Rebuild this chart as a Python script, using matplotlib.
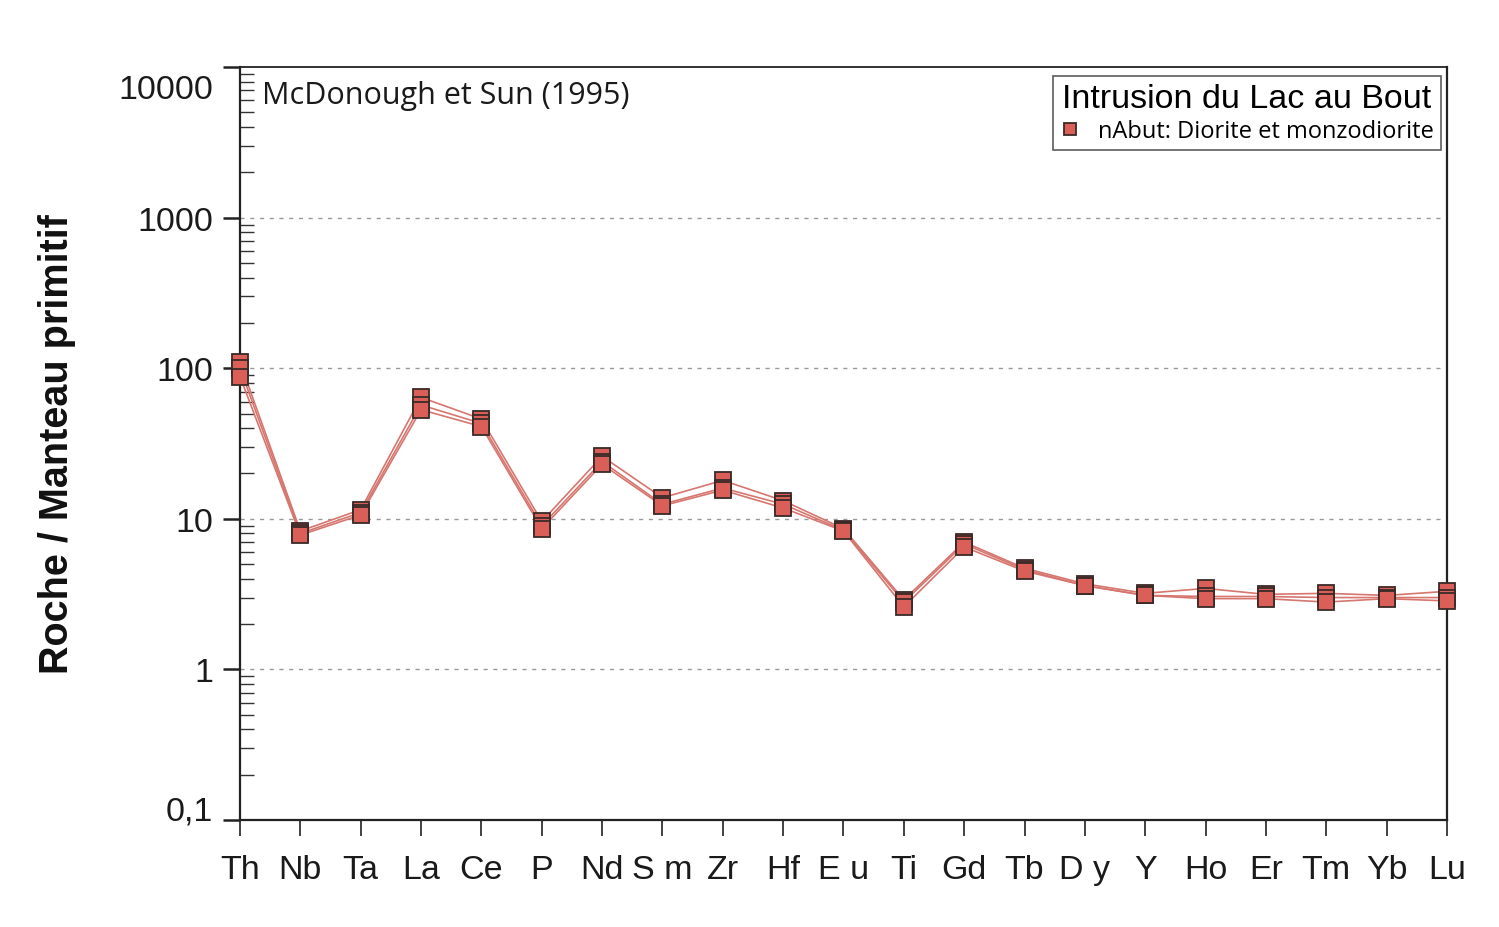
import matplotlib
matplotlib.use("Agg")
import matplotlib.pyplot as plt
from matplotlib.ticker import FixedLocator, LogLocator, NullFormatter, FixedFormatter
from matplotlib.transforms import ScaledTranslation

elements = ["Th", "Nb", "Ta", "La", "Ce", "P", "Nd", "Sm", "Zr", "Hf", "Eu",
            "Ti", "Gd", "Tb", "Dy", "Y", "Ho", "Er", "Tm", "Yb", "Lu"]
tick_labels = ["Th", "Nb", "Ta", "La", "Ce", "P", "Nd", "S m", "Zr", "Hf", "E u",
               "Ti", "Gd", "Tb", "D y", "Y", "Ho", "Er", "Tm", "Yb", "Lu"]

sample_1 = [110, 8.3, 11.5, 64, 46, 9.6, 26, 13.8, 18.0, 13.2, 8.6,
            2.9, 7.0, 4.7, 3.7, 3.2, 3.45, 3.15, 3.2, 3.1, 3.3]
sample_2 = [100, 8.0, 11.0, 57, 43, 9.0, 24, 12.5, 16.0, 12.5, 8.4,
            2.8, 6.8, 4.6, 3.6, 3.1, 3.05, 3.05, 3.0, 3.0, 3.0]
sample_3 = [88, 7.8, 10.6, 53, 41, 8.6, 23, 12.2, 15.5, 11.8, 8.3,
            2.6, 6.5, 4.5, 3.6, 3.1, 2.95, 2.95, 2.8, 2.95, 2.85]
samples = [sample_1, sample_2, sample_3]

y_ticks = [0.1, 1, 10, 100, 1000, 10000]
y_tick_labels = ["0,1", "1", "10", "100", "1000", "10000"]

legend_title = "Intrusion du Lac au Bout"
legend_label = "nAbut: Diorite et monzodiorite"
norm_text = "McDonough et Sun (1995)"
y_label = "Roche / Manteau primitif"

face = "#d95f58"
line_c = "#d6766f"

fig = plt.figure(figsize=(14.99, 9.28), dpi=100)
ax = fig.add_axes([0.1601, 0.1153, 0.9653 - 0.1601, 0.9267 - 0.1153])

x = list(range(len(elements)))
for i, s in enumerate(samples):
    ax.plot(x, s, color=line_c, lw=1.2, zorder=2, clip_on=False)
for i, s in enumerate(samples):
    ax.plot(x, s, linestyle="none", marker="s", markersize=11.5,
            markerfacecolor=face, markeredgecolor="#3a2a28", markeredgewidth=1.3,
            zorder=3, clip_on=False, label=legend_label if i == 0 else None)

ax.set_yscale("log")
ax.set_ylim(0.1, 10000)
ax.set_xlim(0, len(elements) - 1)

ax.yaxis.set_major_locator(FixedLocator(y_ticks))
ax.yaxis.set_major_formatter(FixedFormatter(y_tick_labels))
ax.yaxis.set_minor_locator(LogLocator(base=10, subs=range(2, 10), numticks=20))
ax.yaxis.set_minor_formatter(NullFormatter())
ax.tick_params(axis="y", which="major", direction="out", length=12.5, width=1.8,
               labelsize=24.5, pad=7, colors="#222222")
ax.tick_params(axis="y", which="minor", direction="in", length=10, width=1.0,
               colors="#333333")

ax.set_xticks(x)
ax.set_xticklabels(tick_labels)
ax.tick_params(axis="x", which="major", direction="out", length=11.5, width=1.2,
               labelsize=24.5, pad=13, colors="#222222")
for lbl in ax.get_xticklabels() + ax.get_yticklabels():
    lbl.set_fontfamily("Liberation Sans")
    lbl.set_color("#1a1a1a")

ylabels = ax.get_yticklabels()
ylabels[-1].set_transform(ylabels[-1].get_transform()
                          + ScaledTranslation(0, -0.19, fig.dpi_scale_trans))
ylabels[0].set_transform(ylabels[0].get_transform()
                         + ScaledTranslation(0, 0.13, fig.dpi_scale_trans))

for yv in y_ticks[1:-1]:
    ax.axhline(yv, color="#999999", lw=1.0, ls=(0, (3, 4)), zorder=1)

for side in ["left", "bottom", "right"]:
    ax.spines[side].set_linewidth(1.6)
    ax.spines[side].set_color("#222222")
ax.spines["top"].set_linewidth(1.3)
ax.spines["top"].set_color("#222222")

ax.set_ylabel(y_label, fontsize=28.5, fontweight="bold", family="Liberation Sans",
              labelpad=30, color="#111111")

ax.text(0.018, 0.983, norm_text, transform=ax.transAxes, fontsize=22,
        family="Open Sans", va="top", ha="left", color="#1a1a1a")

leg = ax.legend(loc="upper right", bbox_to_anchor=(0.995, 0.988), frameon=True,
                fancybox=False, edgecolor="#333333", fontsize=17,
                title=legend_title, title_fontsize=24.5, markerscale=0.8,
                handlelength=0.8, handletextpad=0.8, borderpad=0.3,
                labelspacing=0.2, borderaxespad=0)
leg.get_frame().set_linewidth(1.2)
leg.get_title().set_fontfamily("Liberation Sans")
for t in leg.get_texts():
    t.set_fontfamily("Open Sans")

fig.savefig("out.png", dpi=100, facecolor="white")
